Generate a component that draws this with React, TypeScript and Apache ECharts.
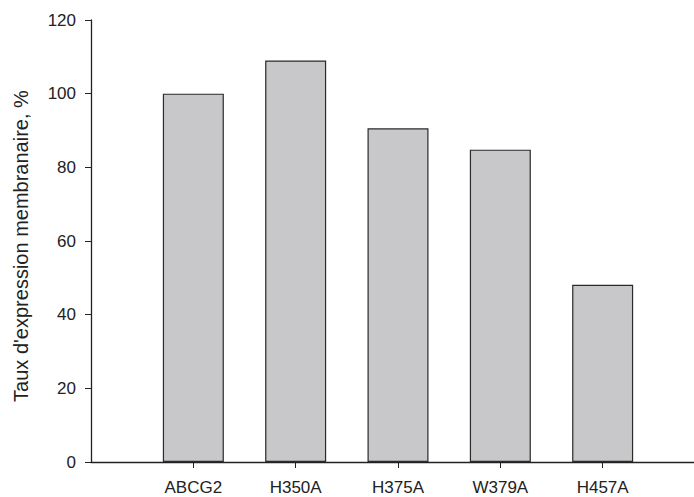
import React, { useEffect, useRef } from "react";
import * as echarts from "echarts";

const categories = ["ABCG2", "H350A", "H375A", "W379A", "H457A"];
const values = [100, 109, 90.6, 84.8, 48.1];
const yTicks = { min: 0, max: 120, interval: 20 };
const yTitle = "Taux d'expression membranaire, %";

const FONT = "'Liberation Sans', Arial, Helvetica, sans-serif";

export default function App() {
  const ref = useRef<HTMLDivElement>(null);
  useEffect(() => {
    document.body.style.margin = "0";
    if (!ref.current) return;
    const chart = echarts.init(ref.current, undefined, { renderer: "svg" });
    const axisCats = ["", ...categories, ""];
    const data = ["-", ...values, "-"];
    chart.setOption({
      animation: false,
      backgroundColor: "#ffffff",
      grid: {
        left: 91,
        top: 20,
        width: 614,
        height: 442,
        containLabel: false,
        outerBoundsMode: "none",
      },
      xAxis: {
        type: "category",
        data: axisCats,
        boundaryGap: false,
        axisLine: { show: true, lineStyle: { color: "#222", width: 1.3 } },
        axisTick: {
          show: true,
          length: 6,
          inside: false,
          interval: (i: number) => i > 0 && i <= categories.length,
          lineStyle: { color: "#222", width: 1 },
        },
        axisLabel: {
          interval: 0,
          margin: 17,
          fontSize: 17,
          fontFamily: FONT,
          color: "#222",
        },
        splitLine: { show: false },
      },
      yAxis: {
        type: "value",
        min: yTicks.min,
        max: yTicks.max,
        interval: yTicks.interval,
        axisLine: { show: true, lineStyle: { color: "#222", width: 1.3 } },
        axisTick: { show: true, length: 6, inside: false, lineStyle: { color: "#222", width: 1 } },
        axisLabel: { margin: 15, fontSize: 17, fontFamily: FONT, color: "#222" },
        splitLine: { show: false },
      },
      graphic: [
        {
          type: "text",
          x: 21,
          y: 246,
          rotation: Math.PI / 2,
          style: {
            text: yTitle,
            font: `20px ${FONT}`,
            fill: "#222",
            textAlign: "center",
            textVerticalAlign: "middle",
          },
        },
      ],
      series: [
        {
          type: "bar",
          data,
          barWidth: 61,
          itemStyle: { color: "#c8c8ca", borderColor: "#2a2a2a", borderWidth: 1.2 },
        },
      ],
    });
    return () => chart.dispose();
  }, []);
  return <div ref={ref} style={{ width: 694, height: 497 }} />;
}
